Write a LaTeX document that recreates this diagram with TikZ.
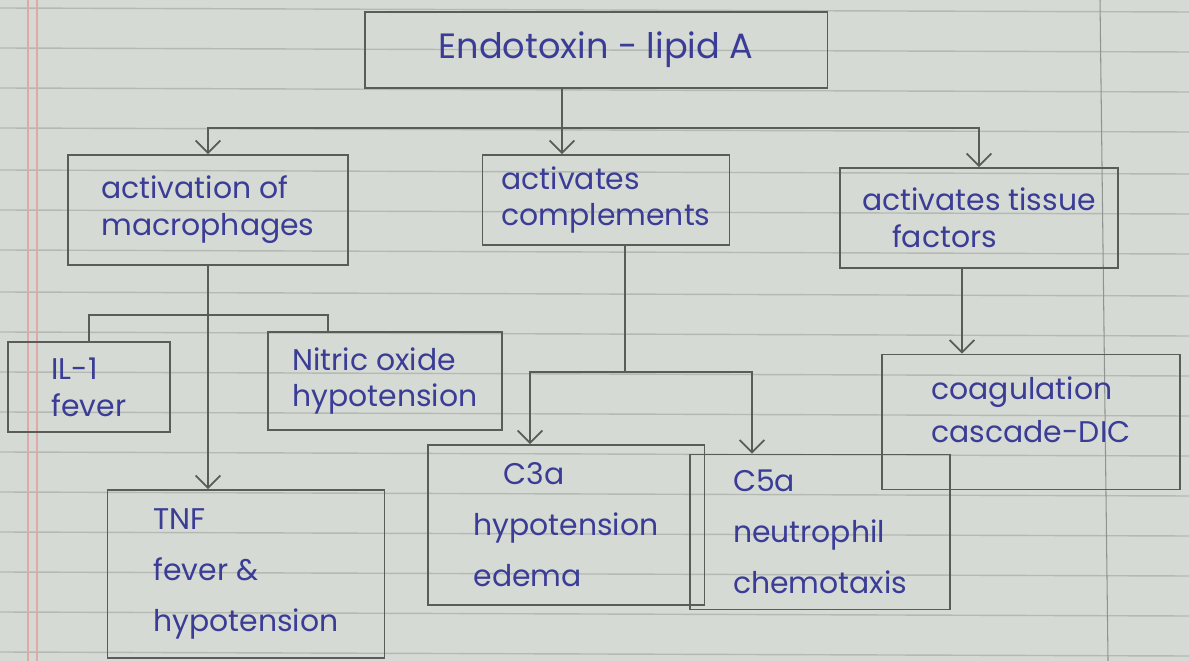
\documentclass[tikz,border=0pt]{standalone}
\usepackage{fontspec}
\setmainfont{Poppins}
\usetikzlibrary{arrows.meta}
\definecolor{paper}{HTML}{D6DAD4}
\definecolor{rule}{HTML}{B4B9B4}
\definecolor{margin}{HTML}{E2A8A8}
\definecolor{pencil}{HTML}{5A5C5A}
\definecolor{ink}{HTML}{3A3C96}
\tikzset{
  box/.style={draw=pencil, line width=1.1pt, rectangle, align=left, inner sep=4pt,
    text=ink, font=\fontsize{17}{21}\selectfont},
  tall/.style={font=\fontsize{17}{29}\selectfont},
  link/.style={draw=pencil, line width=1.1pt},
  arr/.style={link, -{Straight Barb[length=7pt,width=14pt,line width=1pt]}}
}
\begin{document}
\begin{tikzpicture}[x=0.02cm,y=-0.02cm]
\fill[paper] (0,0) rectangle (1189,661);
\useasboundingbox (0,0) rectangle (1189,661);
% ruled paper
\foreach \y in {8,48,88,128,170,210,250,292,332,372,412,452,492,532,572,612,652}
  \draw[rule, line width=0.8pt] (0,\y) -- (1189,\y+4);
\draw[margin, line width=1pt] (28,0) -- (28,661);
\draw[margin, line width=1pt] (37,0) -- (37,661);
\draw[rule!80!black, line width=0.6pt] (1100,0) -- (1108,661);

% nodes
\node[box, minimum width=9.26cm, minimum height=1.52cm, font=\fontsize{20}{24}\selectfont] (top) at (596,50) {Endotoxin - lipid A};
\node[box, minimum width=5.6cm, minimum height=2.2cm] (mac) at (208,210) {activation of\\macrophages};
\node[box, minimum width=4.94cm, minimum height=1.8cm] (comp) at (606,200) {activates\\complements};
\node[box, minimum width=5.56cm, minimum height=2.0cm] (tis) at (979,218) {activates tissue\\\quad factors};
\node[box, minimum width=3.24cm, minimum height=1.8cm] (il) at (89,387) {IL-1\\fever};
\node[box, minimum width=4.68cm, minimum height=1.96cm] (nit) at (385,381) {Nitric oxide\\hypotension};
\node[box, tall, minimum width=5.54cm, minimum height=3.36cm] (tnf) at (246,574) {TNF\\fever \&\\hypotension};
\node[box, tall, minimum width=5.54cm, minimum height=3.2cm] (c3a) at (566,525) {\quad C3a\\hypotension\\edema};
\node[box, tall, minimum width=5.2cm, minimum height=3.1cm] (c5a) at (820,532) {C5a\\neutrophil\\chemotaxis};
\node[box, minimum width=5.96cm, minimum height=2.7cm, font=\fontsize{17}{24}\selectfont] (coag) at (1031,422) {coagulation\\cascade-DIC\\[-10pt]};

% connectors from the top box
\coordinate (bus) at (562,128);
\draw[link] (bus|-top.south) -- (bus);
\draw[arr] (bus) -| (mac.north);
\draw[arr] (bus) -| (tis.north);
\draw[arr] (bus) -- (bus|-comp.north);

% macrophages
\coordinate (mb) at (208,315);
\coordinate (nitin) at (328,0);
\draw[arr] (mac.south) -- (mac.south|-tnf.north);
\draw[link] (mb) -| (il.north);
\draw[link] (mb) -| (nit.north-|nitin);

% complements
\coordinate (cb) at (625,372);
\coordinate (c3in) at (530,0);
\coordinate (c5in) at (752,0);
\draw[link] (cb|-comp.south) -- (cb);
\draw[arr] (cb) -| (c3a.north-|c3in);
\draw[arr] (cb) -| (c5a.north-|c5in);

% tissue factors
\coordinate (tin) at (962,0);
\draw[arr] (tis.south-|tin) -- (coag.north-|tin);
\end{tikzpicture}
\end{document}
